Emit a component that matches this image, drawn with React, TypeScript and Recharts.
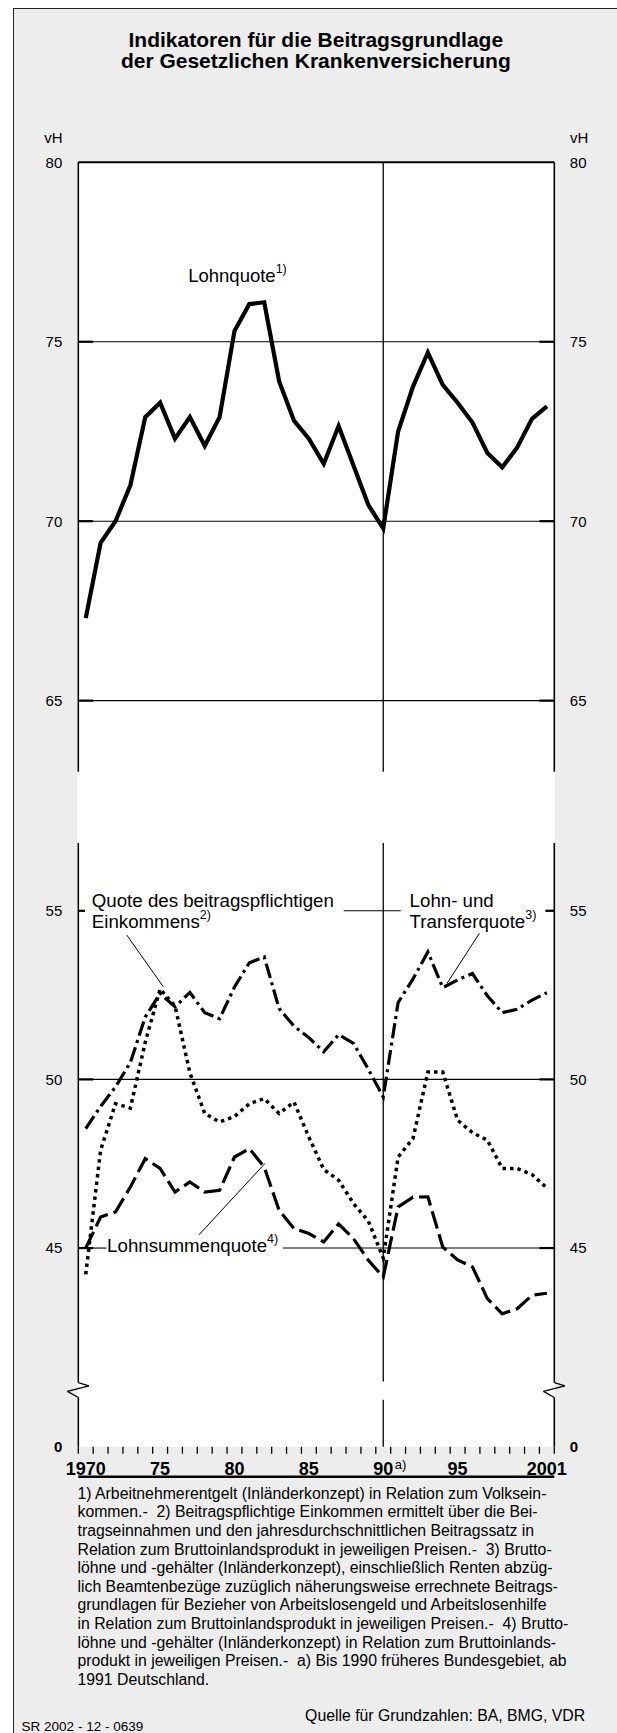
import React from "react";
import { LineChart, Line, XAxis, YAxis, ReferenceLine } from "recharts";

// Jahre und Quoten in vH
const years = [
  1970, 1971, 1972, 1973, 1974, 1975, 1976, 1977, 1978, 1979, 1980, 1981, 1982, 1983, 1984, 1985,
  1986, 1987, 1988, 1989, 1990, 1991, 1992, 1993, 1994, 1995, 1996, 1997, 1998, 1999, 2000, 2001,
];
const lohnquote = [
  67.3, 69.4, 70.0, 71.0, 72.9, 73.3, 72.3, 72.9, 72.1, 72.9, 75.3, 76.05, 76.1, 73.9, 72.8, 72.3,
  71.6, 72.65, 71.55, 70.45, 69.8, 72.5, 73.75, 74.7, 73.8, 73.3, 72.75, 71.9, 71.5, 72.05, 72.85, 73.2,
];
const transferquote = [
  48.54, 49.2, 49.78, 50.5, 51.85, 52.55, 52.15, 52.58, 51.98, 51.8, 52.74, 53.46, 53.63, 52.1, 51.58, 51.24,
  50.82, 51.33, 51.07, 50.3, 49.48, 52.28, 52.98, 53.78, 52.72, 52.95, 53.14, 52.48, 51.98, 52.08, 52.35, 52.57,
];
const beitragsquote = [
  44.22, 47.9, 49.28, 49.15, 51.1, 52.68, 52.18, 50.2, 48.99, 48.74, 48.9, 49.28, 49.43, 48.99, 49.33, 48.29,
  47.33, 47.01, 46.32, 45.8, 44.7, 47.7, 48.25, 50.22, 50.22, 48.79, 48.42, 48.2, 47.36, 47.36, 47.18, 46.78,
];
const lohnsummenquote = [
  45.0, 45.92, 46.07, 46.81, 47.65, 47.36, 46.66, 46.96, 46.66, 46.71, 47.7, 47.95, 47.4, 46.12, 45.58, 45.43,
  45.18, 45.72, 45.28, 44.64, 44.14, 46.22, 46.51, 46.52, 45.03, 44.65, 44.44, 43.5, 43.05, 43.2, 43.6, 43.66,
];

const upperTicks = [65, 70, 75, 80];
const lowerTicks = [45, 50, 55];
const yearTicks = [1970, 1975, 1980, 1985, 1990, 1995, 2001];
const yearLabels = ["1970", "75", "80", "85", "90", "95", "2001"];

const footnotes = [
  "1) Arbeitnehmerentgelt (Inländerkonzept) in Relation zum Volksein-",
  "kommen.-  2) Beitragspflichtige Einkommen ermittelt über die Bei-",
  "tragseinnahmen und den jahresdurchschnittlichen Beitragssatz in",
  "Relation zum Bruttoinlandsprodukt in jeweiligen Preisen.-  3) Brutto-",
  "löhne und -gehälter (Inländerkonzept), einschließlich Renten abzüg-",
  "lich Beamtenbezüge zuzüglich näherungsweise errechnete Beitrags-",
  "grundlagen für Bezieher von Arbeitslosengeld und Arbeitslosenhilfe",
  "in Relation zum Bruttoinlandsprodukt in jeweiligen Preisen.-  4) Brutto-",
  "löhne und -gehälter (Inländerkonzept) in Relation zum Bruttoinlands-",
  "produkt in jeweiligen Preisen.-  a) Bis 1990 früheres Bundesgebiet, ab",
  "1991 Deutschland.",
];

const FONT = '"Liberation Sans", Arial, Helvetica, sans-serif';
const X_DOMAIN: [number, number] = [1969.5, 2001.5];
const UPPER_DOMAIN: [number, number] = [63.02, 80];
const LOWER_DOMAIN: [number, number] = [39.11, 57.01];
const TICK_LEN = 0.21; // ca. 7px unter der Grundlinie
const halfYears = years.map((y) => y - 0.5).concat([2001.5]);

const upperData = years.map((year, i) => ({ year, lohnquote: lohnquote[i] }));
const lowerData = years.map((year, i) => ({
  year,
  transfer: transferquote[i],
  beitrag: beitragsquote[i],
  lohnsumme: lohnsummenquote[i],
}));

const ink = "#000";

function YearTick(props: any) {
  const { x, y, payload } = props;
  const label = yearLabels[yearTicks.indexOf(payload.value)];
  return (
    <g>
      <text x={x} y={y + 12.8} textAnchor="middle" fontSize={18} fontWeight="bold" fill={ink}>
        {label}
      </text>
      {payload.value === 1990 && (
        <text x={x + 11.5} y={y + 6.3} fontSize={13} fill={ink}>
          a)
        </text>
      )}
    </g>
  );
}

function LowerTick(props: any) {
  const { x, y, payload, textAnchor } = props;
  const floor = payload.value === LOWER_DOMAIN[0];
  return (
    <text x={x} y={y} dy="0.355em" textAnchor={textAnchor} fontSize={15} fontWeight={floor ? "bold" : "normal"} fill={ink}>
      {floor ? "0" : payload.value}
    </text>
  );
}

const seg = (x1: number, y1: number, x2: number, y2: number, w: number, key: string) => (
  <ReferenceLine
    key={key}
    xAxisId="x"
    yAxisId="l"
    segment={[{ x: x1, y: y1 }, { x: x2, y: y2 }]}
    stroke={ink}
    strokeWidth={w}
    ifOverflow="visible"
  />
);

function UpperChart() {
  return (
    <LineChart width={617} height={800} data={upperData} margin={{ top: 162.3, right: 22.7, bottom: 28.3, left: 38.3 }}>
      <XAxis xAxisId="x" dataKey="year" type="number" domain={X_DOMAIN} allowDataOverflow hide />
      <YAxis yAxisId="l" domain={UPPER_DOMAIN} allowDataOverflow ticks={upperTicks} width={40} axisLine={false}
        tickLine={false} tickSize={0} tickMargin={16} tick={{ fill: ink, fontSize: 15 }} />
      <YAxis yAxisId="r" orientation="right" domain={UPPER_DOMAIN} allowDataOverflow ticks={upperTicks} width={40}
        axisLine={false} tickLine={false} tickSize={0} tickMargin={15.5} tick={{ fill: ink, fontSize: 15 }} />
      {upperTicks.filter((v) => v !== 80).map((v) => seg(X_DOMAIN[0], v, X_DOMAIN[1], v, 1.1, "g" + v))}
      {upperTicks.filter((v) => v !== 80).map((v) => seg(1969.5, v, 1970.5, v, 2.2, "el" + v))}
      {upperTicks.filter((v) => v !== 80).map((v) => seg(2000.5, v, 2001.5, v, 2.2, "er" + v))}
      {seg(X_DOMAIN[0], 80, X_DOMAIN[1], 80, 2, "top")}
      {seg(X_DOMAIN[0], UPPER_DOMAIN[0], X_DOMAIN[0], 80, 1.6, "left")}
      {seg(X_DOMAIN[1], UPPER_DOMAIN[0], X_DOMAIN[1], 80, 1.6, "right")}
      {seg(1990, UPPER_DOMAIN[0], 1990, 80, 1.3, "v90")}
      <Line xAxisId="x" yAxisId="l" type="linear" dataKey="lohnquote" stroke={ink} strokeWidth={4.2}
        dot={false} isAnimationActive={false} />
    </LineChart>
  );
}

function LowerChart() {
  const [lo, hi] = LOWER_DOMAIN;
  return (
    <LineChart width={617} height={700} data={lowerData} margin={{ top: 43, right: 22.7, bottom: 22.3, left: 38.3 }}>
      <XAxis xAxisId="x" dataKey="year" type="number" domain={X_DOMAIN} allowDataOverflow ticks={halfYears}
        interval={0} height={1} tick={false} tickLine={false} axisLine={{ stroke: ink, strokeWidth: 2.5 }} />
      <XAxis xAxisId="lbl" dataKey="year" type="number" domain={X_DOMAIN} allowDataOverflow ticks={yearTicks}
        interval={0} height={30} axisLine={false} tickLine={false} tickSize={0} tickMargin={15.5} tick={<YearTick />} />
      <YAxis yAxisId="l" domain={LOWER_DOMAIN} allowDataOverflow ticks={[lo, ...lowerTicks]} width={40}
        axisLine={false} tickLine={false} tickSize={0} tickMargin={16} tick={<LowerTick />} />
      <YAxis yAxisId="r" orientation="right" domain={LOWER_DOMAIN} allowDataOverflow ticks={[lo, ...lowerTicks]}
        width={40} axisLine={false} tickLine={false} tickSize={0} tickMargin={15.5} tick={<LowerTick />} />

      {seg(X_DOMAIN[0], 50, X_DOMAIN[1], 50, 1.1, "g50")}
      {seg(X_DOMAIN[0], 45, 1971.39, 45, 1.1, "g45a")}
      {seg(1983.25, 45, X_DOMAIN[1], 45, 1.1, "g45b")}
      {seg(1987.34, 55, 1991.18, 55, 1.1, "g55")}
      {[45, 50].map((v) => seg(1969.5, v, 1970.5, v, 2.2, "el" + v))}
      {[45, 50].map((v) => seg(2000.5, v, 2001.5, v, 2.2, "er" + v))}
      {seg(1969.5, 55, 1969.95, 55, 2.2, "el55")}
      {seg(2000.9, 55, 2001.5, 55, 2.2, "er55")}

      {/* Teilstriche zwischen den Jahren */}
      {halfYears.map((t) => seg(t, lo, t, lo - TICK_LEN, 1.3, "t" + t))}

      {/* Rahmen mit Achsenbruch */}
      {[X_DOMAIN[0], X_DOMAIN[1]].map((bx) => (
        <React.Fragment key={"b" + bx}>
          {seg(bx, hi, bx, 41.01, 1.6, "bt" + bx)}
          {seg(bx, 41.01, bx + 0.71, 40.91, 1.3, "z1" + bx)}
          {seg(bx + 0.71, 40.91, bx - 0.73, 40.75, 1.3, "z2" + bx)}
          {seg(bx - 0.73, 40.75, bx, 40.57, 1.3, "z3" + bx)}
          {seg(bx, 40.57, bx, lo, 1.6, "bb" + bx)}
        </React.Fragment>
      ))}
      {seg(1990, hi, 1990, 41.04, 1.3, "v90a")}
      {seg(1990, 40.5, 1990, lo, 1.3, "v90b")}

      {/* Hinweislinien */}
      {seg(1972.76, 54.28, 1975.21, 52.75, 1, "l2")}
      {seg(1996.46, 54.33, 1994.29, 52.85, 1, "l3")}
      {seg(1977.61, 45.39, 1982.05, 47.51, 1, "l4")}

      <Line xAxisId="x" yAxisId="l" type="linear" dataKey="transfer" stroke={ink} strokeWidth={3.2}
        strokeDasharray="15 4.5 3 4.5" dot={false} isAnimationActive={false} />
      <Line xAxisId="x" yAxisId="l" type="linear" dataKey="beitrag" stroke={ink} strokeWidth={3.5}
        strokeDasharray="3.5 4" dot={false} isAnimationActive={false} />
      <Line xAxisId="x" yAxisId="l" type="linear" dataKey="lohnsumme" stroke={ink} strokeWidth={3.2}
        strokeDasharray="18 6" dot={false} isAnimationActive={false} />
    </LineChart>
  );
}

export default function App() {
  return (
    <div style={{ position: "absolute", left: 0, top: 0, width: 617, height: 1733, background: "#fff", overflow: "hidden", fontFamily: FONT }}>
      <div style={{ position: "absolute", left: 13, top: 8, right: 0, bottom: 0, background: "#ededed",
        borderLeft: "1.6px solid #222", borderTop: "1.4px solid #222" }} />
      <div style={{ position: "absolute", left: 77, top: 162, width: 478, height: 1285, background: "#fff" }} />
      <div style={{ position: "absolute", left: 0, top: 0 }}>
        <UpperChart />
      </div>
      <div style={{ position: "absolute", left: 0, top: 800 }}>
        <LowerChart />
      </div>
      <svg width={617} height={1733} style={{ position: "absolute", left: 0, top: 0, pointerEvents: "none" }} fontFamily={FONT} fill={ink}>
        <text x={315.8} y={46.7} textAnchor="middle" fontSize={21} fontWeight="bold">Indikatoren für die Beitragsgrundlage</text>
        <text x={315.8} y={68.3} textAnchor="middle" fontSize={21} fontWeight="bold">der Gesetzlichen Krankenversicherung</text>
        <text x={62.5} y={143.3} textAnchor="end" fontSize={15}>vH</text>
        <text x={570} y={143.3} fontSize={15}>vH</text>

        <text x={188.2} y={281.7} fontSize={18.5}>Lohnquote<tspan fontSize={12.5} dy={-8.5}>1)</tspan></text>
        <text x={91.8} y={907} fontSize={18.7}>Quote des beitragspflichtigen</text>
        <text x={91.8} y={928.3} fontSize={18.7}>Einkommens<tspan fontSize={12.5} dy={-9}>2)</tspan></text>
        <text x={409.6} y={907} fontSize={18.7}>Lohn- und</text>
        <text x={409.6} y={928.3} fontSize={18.7}>Transferquote<tspan fontSize={12.5} dy={-9}>3)</tspan></text>
        <text x={107.1} y={1251.7} fontSize={18.7}>Lohnsummenquote<tspan fontSize={12.5} dy={-8.7}>4)</tspan></text>

        {footnotes.map((line, i) => (
          <text key={i} x={77.5} y={1498.7 + i * 18.6} fontSize={15.8} style={{ whiteSpace: "pre" }}>{line}</text>
        ))}
        <text x={585.2} y={1720.7} textAnchor="end" fontSize={15.8}>Quelle für Grundzahlen: BA, BMG, VDR</text>
        <text x={21.6} y={1731.3} fontSize={13.5}>SR 2002 - 12 - 0639</text>
      </svg>
    </div>
  );
}
